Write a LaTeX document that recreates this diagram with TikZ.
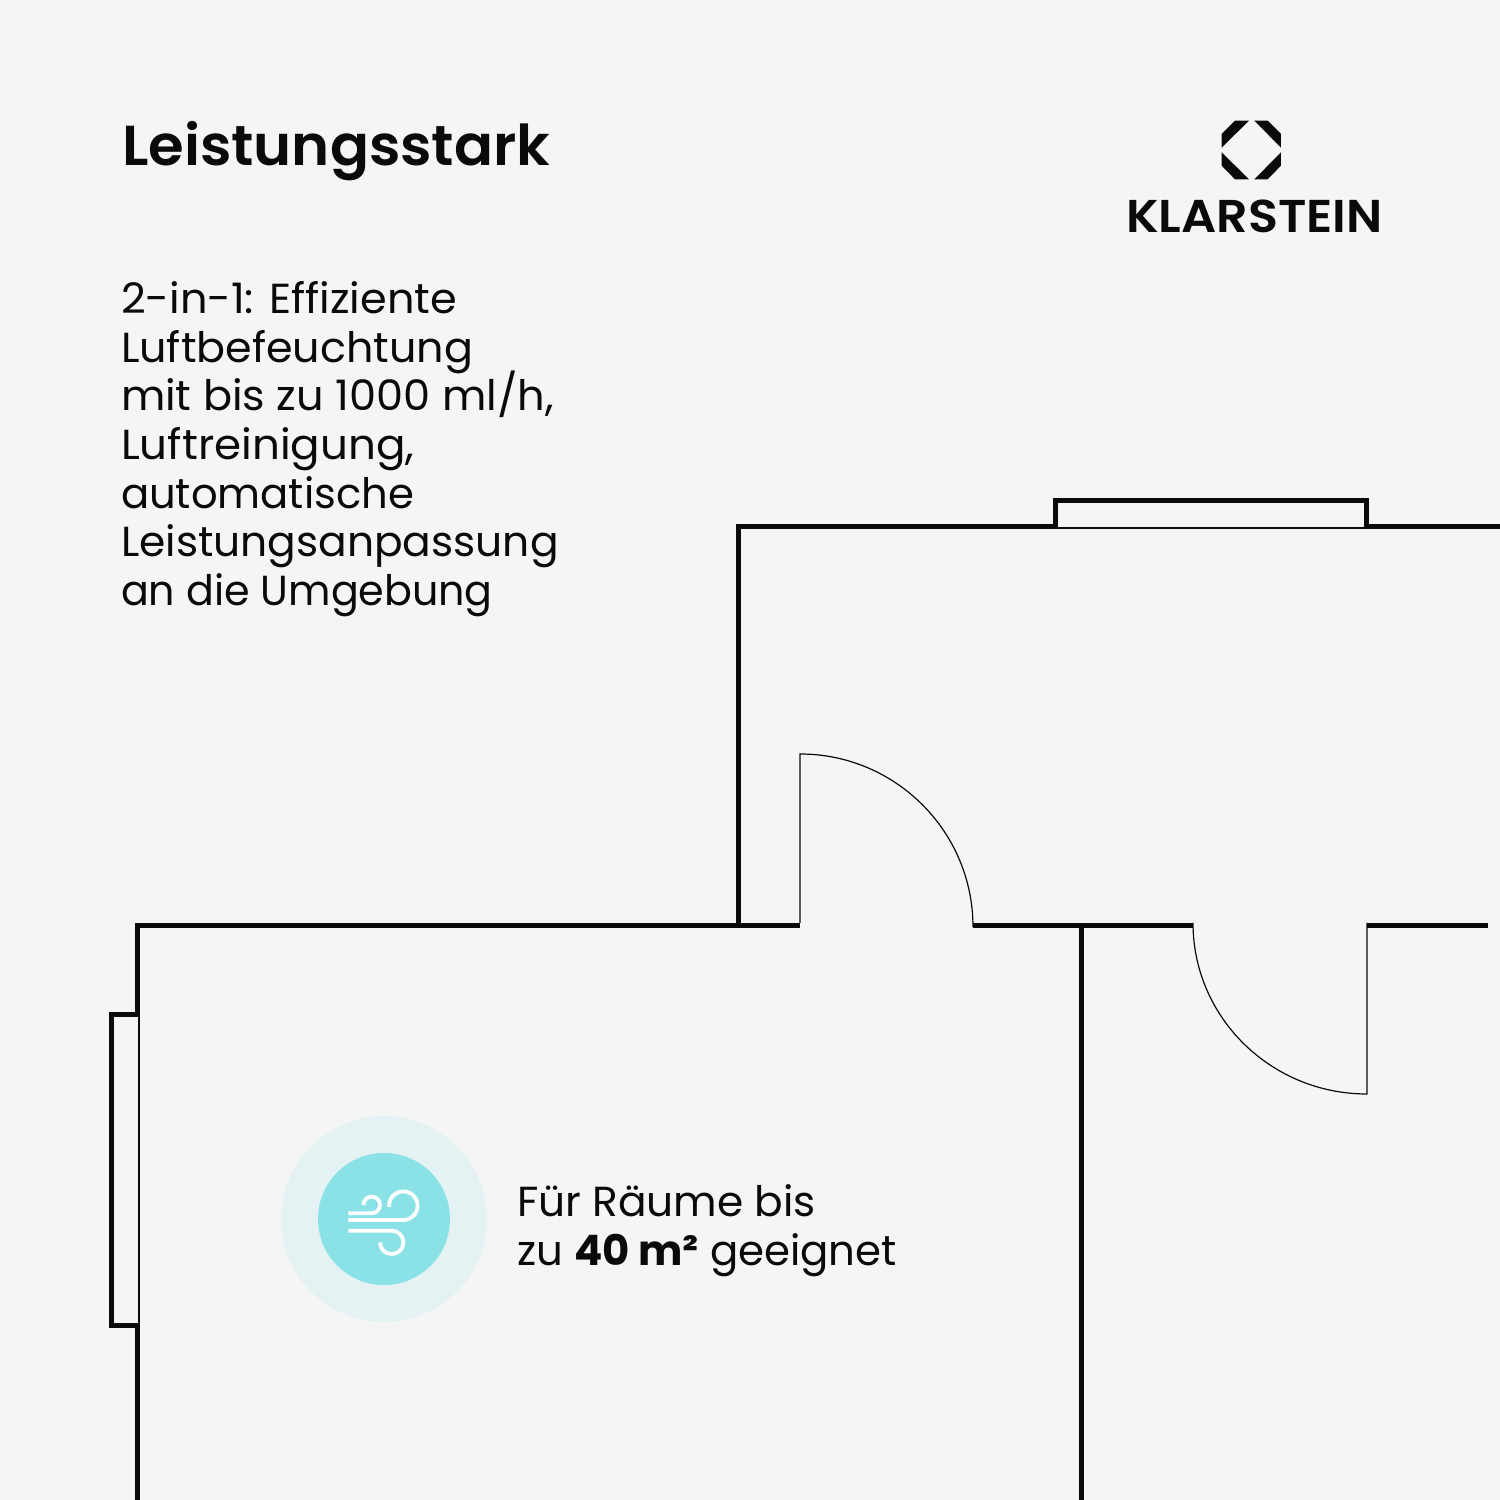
\documentclass[tikz,border=0pt]{standalone}
\usepackage{fontspec}
\setmainfont{Poppins}
\newfontfamily\semib{Poppins SemiBold}
\newfontfamily\semiblogo[FakeStretch=1.07]{Poppins SemiBold}
\definecolor{bgc}{HTML}{F5F5F5}
\definecolor{halo}{HTML}{E4F2F3}
\definecolor{disc}{HTML}{8AE2E7}
\definecolor{ink}{HTML}{0A0A0A}
\tikzset{
 wall/.style={draw=ink,line width=5pt,line cap=butt,line join=miter},
 thin/.style={draw=ink,line width=1.2pt},
 wind/.style={draw=white,line width=3.8pt},
 txt/.style={anchor=base west,inner sep=0pt,outer sep=0pt,text=ink,transform shape},
 logoshape/.style={fill=ink,draw=none}
}
\newcommand{\bodysize}{\fontsize{42}{49}\selectfont}
\begin{document}
\begin{tikzpicture}[x=1pt,y=1pt]
\useasboundingbox (0,0) rectangle (1500,1500);
\fill[bgc] (0,0) rectangle (1500,1500);
% walls
\draw[wall] (1500,973.5) -- (1366,973.5) -- (1366,999.7) -- (1055,999.7) -- (1055,973.5) -- (738.5,973.5) -- (738.5,574.5);
\draw[wall] (137.3,0) -- (137.3,174) -- (111,174) -- (111,485) -- (137.3,485) -- (137.3,574.5) -- (800,574.5);
\draw[wall] (973,574.5) -- (1193,574.5);
\draw[wall] (1367,574.5) -- (1488,574.5);
\draw[wall] (1081,574.5) -- (1081,0);
% window glass
\draw[thin] (1055,972) -- (1366,972);
\draw[thin] (139,174) -- (139,485);
% doors
\draw[thin] (800,577) -- (800,746) arc[start angle=90,end angle=0,radius=173] -- (973,577);
\draw[thin] (1193,577) arc[start angle=180,end angle=270,x radius=174,y radius=171] -- (1367,577);
% title & text
\node[txt,font=\fontsize{56.3}{60}\selectfont\semib,xscale=1.024] (title) at (122,1334) {Leistungsstark};
\node[txt,font=\bodysize,xscale=1.024] (b1) at (121,1186) {2-in-1: Effiziente};
\node[txt,font=\bodysize,xscale=1.02] (b2) at (121,1137) {Luftbefeuchtung};
\node[txt,font=\bodysize,xscale=1.026] (b3) at (121,1089) {mit bis zu 1000 ml/h,};
\node[txt,font=\bodysize,xscale=1.039] (b4) at (121,1040) {Luftreinigung,};
\node[txt,font=\bodysize,xscale=0.993] (b5) at (121,991) {automatische};
\node[txt,font=\bodysize,xscale=1.009] (b6) at (121,943) {Leistungsanpassung};
\node[txt,font=\bodysize,xscale=0.981] (b7) at (121,894) {an die Umgebung};
\node[txt,font=\bodysize,xscale=1.007] (l1) at (517,283) {Für Räume bis};
\node[txt,font=\bodysize,xscale=0.997] (l2) at (517,234) {zu \textbf{40 m²} geeignet};
% logo
\begin{scope}[shift={(1100,1400)},x=0.3333pt,y=-0.3333pt]
\fill[logoshape] (405,62) -- (447,62) -- (365,143) -- (365,102) -- cycle;
\fill[logoshape] (463,62) -- (503,62) -- (543,102) -- (543,143) -- cycle;
\fill[logoshape] (365,157) -- (447,238) -- (405,238) -- (365,197) -- cycle;
\fill[logoshape] (543,157) -- (543,197) -- (503,238) -- (463,238) -- cycle;
\end{scope}
\node[txt,font=\fontsize{46}{50}\selectfont\semiblogo] (logo) at (1126,1267) {KLARSTEIN};
% icon
\fill[halo] (384,281) circle[radius=103];
\fill[disc] (384,281) circle[radius=66];
\draw[wind] (348.3,286.7) -- (371.7,286.7) arc[start angle=-90,end angle=180,radius=8.3];
\draw[wind] (348.3,280) -- (403.3,280) arc[start angle=-90,end angle=185,radius=14.3];
\draw[wind] (348.3,269.3) -- (391.7,269.3) arc[start angle=90,end angle=-180,radius=11.7];
\end{tikzpicture}
\end{document}
